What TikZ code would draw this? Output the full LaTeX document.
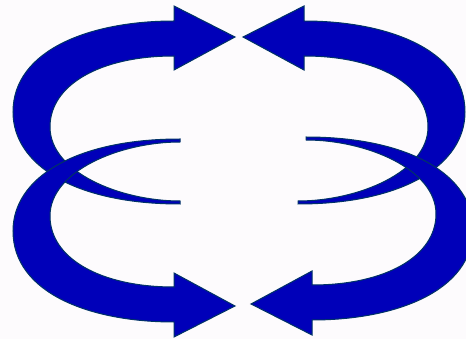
\documentclass[tikz,border=0pt]{standalone}
\definecolor{arrowfill}{RGB}{0,0,185}
\definecolor{arrowline}{RGB}{0,51,102}
\definecolor{bgcol}{RGB}{253,251,253}
\tikzset{
  curvy/.style={fill=arrowfill, draw=arrowline, line width=1pt, line join=miter}
}
\begin{document}
\begin{tikzpicture}[x=1pt,y=-1pt]
\useasboundingbox (0,0) rectangle (466,339);
\fill[bgcol] (0,0) rectangle (466,339);
\clip (0,0) rectangle (466,339);
% top-left
\begin{scope}
\path[curvy] (180,204) .. controls (75,204) and (13,165) .. (13,112)
  .. controls (13,50) and (90,21) .. (174,21)
  -- (174,6) -- (235,37) -- (174,70) -- (174,56)
  .. controls (100,56) and (50,85) .. (50,127)
  .. controls (50,172) and (120,201) .. (180,201) -- cycle;
\end{scope}
% top-right
\begin{scope}[shift={(478,0)}, xscale=-1]
\path[curvy] (180,204) .. controls (75,204) and (13,165) .. (13,112)
  .. controls (13,50) and (90,21) .. (174,21)
  -- (174,6) -- (235,37) -- (174,70) -- (174,56)
  .. controls (100,56) and (50,85) .. (50,127)
  .. controls (50,172) and (120,201) .. (180,201) -- cycle;
\end{scope}
% bottom-left
\begin{scope}[shift={(0,343)}, yscale=-1]
\path[curvy] (180,204) .. controls (75,204) and (13,165) .. (13,112)
  .. controls (13,50) and (90,21) .. (174,21)
  -- (174,6) -- (235,37) -- (174,70) -- (174,56)
  .. controls (100,56) and (50,85) .. (50,127)
  .. controls (50,172) and (120,201) .. (180,201) -- cycle;
\end{scope}
% bottom-right
\begin{scope}[shift={(486,341)}, xscale=-1, yscale=-1]
\path[curvy] (180,204) .. controls (75,204) and (13,165) .. (13,112)
  .. controls (13,50) and (90,21) .. (174,21)
  -- (174,6) -- (235,37) -- (174,70) -- (174,56)
  .. controls (100,56) and (50,85) .. (50,127)
  .. controls (50,172) and (120,201) .. (180,201) -- cycle;
\end{scope}
\end{tikzpicture}
\end{document}
